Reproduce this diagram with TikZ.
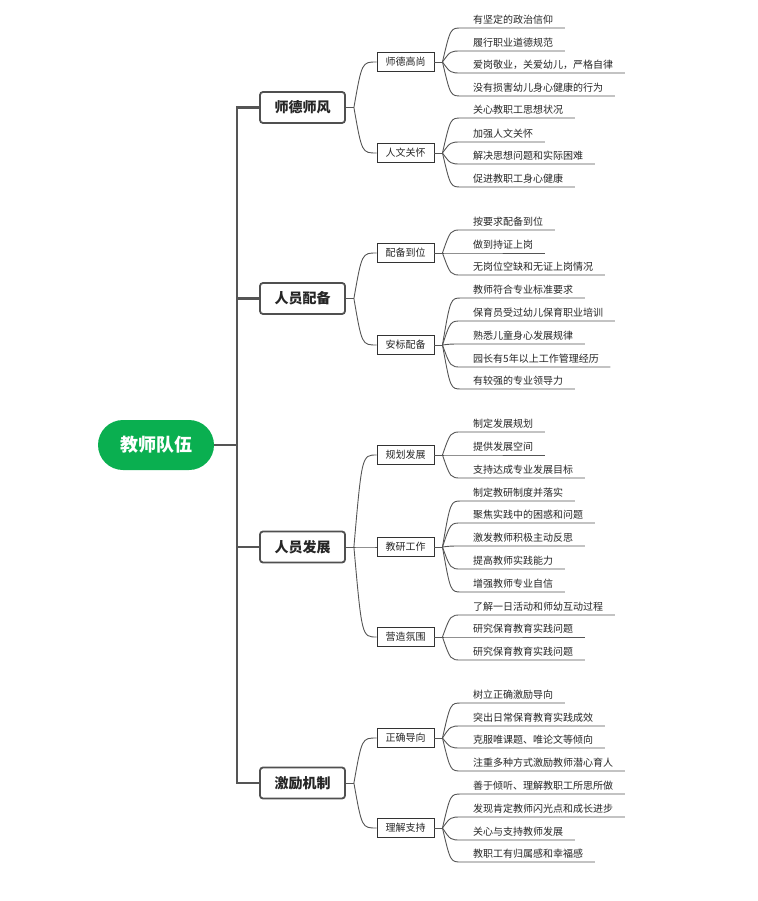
\documentclass[tikz,border=0pt]{standalone}
\usepackage{fontspec}
\setmainfont{Noto Sans CJK SC}
\usetikzlibrary{calc}
\definecolor{rootgreen}{RGB}{10,175,80}
\definecolor{linegray}{RGB}{85,85,85}
\definecolor{boxgray}{RGB}{80,80,80}
\tikzset{
  rootnode/.style={rounded corners=25pt, fill=rootgreen, text=white, font=\fontsize{18}{20}\selectfont\bfseries, minimum width=116pt, minimum height=50pt, inner sep=0pt},
  mainnode/.style={draw=boxgray, line width=1.8pt, rounded corners=3pt, fill=white, text=black!85, font=\fontsize{14}{16}\selectfont\bfseries, minimum width=85pt, minimum height=31pt, inner sep=0pt},
  subnode/.style={draw=black!80, line width=0.9pt, fill=white, text=black!85, font=\fontsize{10}{12}\selectfont, minimum width=57pt, minimum height=19pt, inner sep=0pt},
  leafnode/.style={anchor=south west, text=black!85, font=\fontsize{10}{12}\selectfont, text height=8pt, text depth=0pt, inner ysep=4pt, inner xsep=11.5pt},
  trunkline/.style={draw=linegray, line width=2.4pt},
  branchline/.style={draw=linegray, line width=0.9pt}
}
\newcommand\subconn[2]{%
  \draw[branchline] (#1.east) -- ++(8,0) coordinate (#1k#2);
  \draw[branchline] (#1k#2) .. controls ($(#1k#2 |- #2.west)+(8,0)$) .. (#2.west);
}
\newcommand\leafgroup[2]{%
  \draw[branchline] (#1.east) -- ++(8,0) coordinate (#1j);
  \foreach \u/\t [count=\i] in {#2}{
    \node[leafnode] (#1-\i) at (461.5,\u) {\t};
    \draw[branchline] (#1j) .. controls ($(#1j |- #1-\i.south west)+(8,0)$) .. (#1-\i.south west) -- (#1-\i.south east);
  }}
\begin{document}
\begin{tikzpicture}[x=1pt,y=-1pt]
\useasboundingbox (0,0) rectangle (757,901);
% root
\node[rootnode] (root) at (156,445) {教师队伍};
\coordinate (trunk) at (237,445);
% main nodes
\node[mainnode] (m1) at (302.5,107.5) {师德师风};
\node[mainnode] (m2) at (302.5,298.5) {人员配备};
\node[mainnode] (m3) at (302.5,547) {人员发展};
\node[mainnode] (m4) at (302.5,783) {激励机制};
\draw[trunkline] (root.east) -- (trunk);
\foreach \m in {m1,m2,m3,m4}{\draw[trunkline] (trunk) |- (\m.west);}
% sub nodes
\node[subnode] (s1) at (405.5,62) {师德高尚};
\node[subnode] (s2) at (405.5,153) {人文关怀};
\node[subnode] (s3) at (405.5,253) {配备到位};
\node[subnode] (s4) at (405.5,345) {安标配备};
\node[subnode] (s5) at (405.5,455) {规划发展};
\node[subnode] (s6) at (405.5,547) {教研工作};
\node[subnode] (s7) at (405.5,637) {营造氛围};
\node[subnode] (s8) at (405.5,738) {正确导向};
\node[subnode] (s9) at (405.5,828) {理解支持};
\subconn{m1}{s1}\subconn{m1}{s2}
\subconn{m2}{s3}\subconn{m2}{s4}
\subconn{m3}{s5}\subconn{m3}{s6}\subconn{m3}{s7}
\subconn{m4}{s8}\subconn{m4}{s9}
% leaves
\leafgroup{s1}{28/有坚定的政治信仰, 51/履行职业道德规范, 73/爱岗敬业，关爱幼儿，严格自律, 96/没有损害幼儿身心健康的行为}
\leafgroup{s2}{118/关心教职工思想状况, 142/加强人文关怀, 164/解决思想问题和实际困难, 187/促进教职工身心健康}
\leafgroup{s3}{230/按要求配备到位, 253/做到持证上岗, 275/无岗位空缺和无证上岗情况}
\leafgroup{s4}{298/教师符合专业标准要求, 321/保育员受过幼儿保育职业培训, 344/熟悉儿童身心发展规律, 367/园长有5年以上工作管理经历, 389/有较强的专业领导力}
\leafgroup{s5}{432/制定发展规划, 455/提供发展空间, 478/支持达成专业发展目标}
\leafgroup{s6}{501/制定教研制度并落实, 523/聚焦实践中的困惑和问题, 546/激发教师积极主动反思, 569/提高教师实践能力, 592/增强教师专业自信}
\leafgroup{s7}{615/了解一日活动和师幼互动过程, 637/研究保育教育实践问题, 660/研究保育教育实践问题}
\leafgroup{s8}{703/树立正确激励导向, 726/突出日常保育教育实践成效, 748/克服唯课题、唯论文等倾向, 771/注重多种方式激励教师潜心育人}
\leafgroup{s9}{794/善于倾听、理解教职工所思所做, 817/发现肯定教师闪光点和成长进步, 840/关心与支持教师发展, 862/教职工有归属感和幸福感}
\end{tikzpicture}
\end{document}
